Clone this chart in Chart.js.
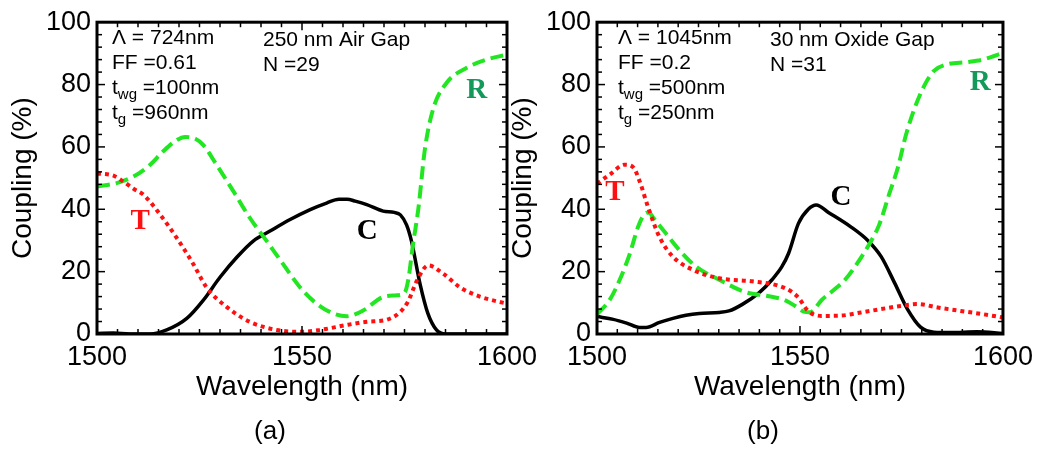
<!DOCTYPE html>
<html><head><meta charset="utf-8">
<script src="https://cdn.jsdelivr.net/npm/chart.js@4/dist/chart.umd.min.js"></script>
<style>
html,body{margin:0;padding:0;background:#fff;}
#wrap{position:relative;width:1040px;height:449px;overflow:hidden;background:#fff;}
canvas{position:absolute;left:0;top:0;}
</style></head><body>
<div id="wrap"><canvas id="ca" width="1040" height="449"></canvas><canvas id="cb" width="1040" height="449"></canvas></div>
<script>
// ---- tick labels ----
const xTickLabels = [1500, 1550, 1600];
const yTickLabels = [0, 20, 40, 60, 80, 100];

// ---- Panel (a): 250 nm Air Gap ----
const wlA_T = [1500,1504,1506.4,1509,1511.3,1515.4,1519.4,1523.5,1526.7,1531.6,1537.3,1543.8,1549.5,1554.4,1560.9,1565.8,1570.7,1573.9,1575.9,1578,1580.8,1584.5,1588.5,1593.4,1600];
const valA_T = [51.5,50.8,48.9,46.5,44.7,38.3,30.9,22.4,15,8.7,3.9,1.3,0.7,1.3,2.9,3.9,4.6,7,10.5,17,22,19.3,15,12,9.7];
const wlA_R = [1500,1504.8,1508.9,1512.9,1516,1519,1521.5,1524,1526,1529.2,1533.3,1537.3,1541.4,1545.4,1549.5,1553.6,1557.6,1560.9,1565,1569.8,1573.1,1575.1,1576,1577,1578.4,1580,1582,1585.3,1590.2,1595,1600];
const valA_R = [47.3,48.4,50.5,54.2,58.4,61.8,63.2,62.6,60.5,54.2,45.7,37.2,29.8,22.4,15,9.7,6.6,5.7,7.6,11.9,12.4,13.4,18,28,40.4,59.5,72.2,80.6,85.4,88,89.6];
const wlA_C = [1500,1504,1508,1513,1517,1521.9,1525.9,1530,1534.1,1538.1,1542.2,1547.1,1552,1556,1559,1561,1563,1565.8,1569.8,1572.5,1574,1575.5,1576.7,1578.8,1580.7,1582.8,1585,1600];
const valA_C = [0.2,0.3,0,0,1.3,5,10.8,18.2,24.6,29.8,33,36.7,39.9,42,43.2,43.2,42.6,41.5,39.4,39,38.2,35,29.8,16,6.6,1.3,0,0];

// ---- Panel (b): 30 nm Oxide Gap ----
const wlB_T = [1500,1503.2,1506.8,1508.9,1510.5,1512.6,1515.4,1518.7,1523.6,1530.1,1538.2,1544.7,1548,1549.6,1552,1555.3,1560,1565,1570,1574.8,1579,1583.9,1589.6,1595.3,1600];
const valB_T = [48.2,51.2,54.3,53.5,49,40.6,31.1,24.8,20.6,17.9,16.9,15.5,13.5,11.7,7.4,5.8,5.9,6.9,8,9,9.6,8.5,7.4,6.3,5.3];
const wlB_R = [1500,1503.2,1505.6,1508.1,1510.1,1511.7,1512.8,1513.8,1517,1520.3,1524.4,1530.1,1536.6,1542.3,1546.4,1548.8,1550.9,1552.5,1555.4,1558.6,1561.1,1563.5,1566.7,1569.5,1572,1574.1,1576.1,1578.2,1580.6,1583,1586.3,1591.2,1595.3,1600];
const valB_R = [6.3,11.1,17.4,25.8,34.3,38.5,39,37.4,32.2,26.9,21.6,17.4,13.4,12.1,10.8,9,7.2,7,11,14.4,17.4,21.5,28,35,45,53.3,63.8,72.3,79.6,84.4,86.5,87.2,88.1,90.2];
const wlB_C = [1500,1504,1507.3,1510.5,1512.1,1515.4,1518.7,1521.9,1525.2,1530.1,1532.5,1535.8,1539.9,1543.1,1545.5,1547.2,1549.6,1552.1,1554,1557,1562.6,1566.7,1570,1573.3,1576.5,1579.7,1583,1587.1,1593.6,1600];
const valB_C = [5.6,4.7,3.5,2.1,2.1,3.7,5,6,6.6,6.9,7.4,9.5,13.2,17.4,21.5,25.9,35.4,40.1,41.4,39,34.3,30,24.8,16.4,7.9,2.2,0.6,0.5,0.7,0.2];

// ---- annotation texts ----
const annA = { params: [['Λ = 724nm'], ['FF =0.61'], ['t','wg',' =100nm'], ['t','g',' =960nm']], gap: ['250 nm Air Gap', 'N =29'], caption: '(a)' };
const annB = { params: [['Λ = 1045nm'], ['FF =0.2'], ['t','wg',' =500nm'], ['t','g',' =250nm']], gap: ['30 nm Oxide Gap', 'N =31'], caption: '(b)' };

const SANS = "'Liberation Sans', Arial, sans-serif";
const SERIF = "'Liberation Serif', 'Times New Roman', serif";
const pts = (xs, ys) => xs.map((x, i) => ({x, y: ys[i]}));

const decorPlugin = {
  id: 'decor',
  afterDatasetsDraw(chart, args, o) {
    const {ctx, chartArea: a, scales: {x, y}} = chart;
    ctx.save();
    ctx.strokeStyle = '#000';
    ctx.lineWidth = 1.5;
    const seg = (x1, y1, x2, y2) => { ctx.beginPath(); ctx.moveTo(x1, y1); ctx.lineTo(x2, y2); ctx.stroke(); };
    for (let v = 1500; v <= 1600; v += 5) {
      const px = x.getPixelForValue(v);
      const len = (v % 50 === 0) ? 8 : 5;
      seg(px, a.bottom, px, a.bottom - len);
      seg(px, a.top, px, a.top + len);
    }
    for (let v = 0; v <= 100; v += 4) {
      const py = y.getPixelForValue(v);
      const len = (v % 20 === 0) ? 8 : 5;
      seg(a.left, py, a.left + len, py);
      seg(a.right, py, a.right - len, py);
    }
    ctx.lineWidth = 3;
    ctx.strokeRect(a.left, a.top, a.width, a.height);

    // parameter text
    ctx.fillStyle = '#000';
    ctx.textBaseline = 'alphabetic';
    ctx.textAlign = 'left';
    const ann = o.ann;
    const bl = [44, 69, 94, 119];
    ann.params.forEach((p, i) => {
      let px = a.left + o.px;
      const py = bl[i];
      ctx.font = "21px " + SANS;
      if (p.length === 1) { ctx.fillText(p[0], px, py); return; }
      ctx.fillText(p[0], px, py);
      px += ctx.measureText(p[0]).width;
      ctx.font = "15px " + SANS;
      ctx.fillText(p[1], px, py + 5);
      px += ctx.measureText(p[1]).width;
      ctx.font = "21px " + SANS;
      ctx.fillText(p[2], px, py);
    });
    ctx.font = "21px " + SANS;
    ctx.fillText(ann.gap[0], a.left + o.gx, 46);
    ctx.fillText(ann.gap[1], a.left + o.gx, 71);

    // curve labels
    ctx.textAlign = 'center';
    ctx.textBaseline = 'middle';
    ctx.font = "bold 29px " + SERIF;
    o.labels.forEach(l => {
      ctx.fillStyle = l.c;
      ctx.fillText(l.t, x.getPixelForValue(l.x), y.getPixelForValue(l.y));
    });

    // caption
    ctx.fillStyle = '#000';
    ctx.font = "26px " + SANS;
    ctx.fillText(ann.caption, o.capX, 432);
    ctx.restore();
  }
};

function makeChart(id, padLeft, padRight, T, R, C, ann, o) {
  return new Chart(document.getElementById(id), {
    type: 'line',
    data: { datasets: [
      { data: T, borderColor: '#ff1010', borderWidth: 4, borderDash: [4, 4], borderCapStyle: 'butt' },
      { data: R, borderColor: '#22e622', borderWidth: 4, borderDash: [13, 6], borderCapStyle: 'butt' },
      { data: C, borderColor: '#000000', borderWidth: 3.5 }
    ]},
    options: {
      responsive: false, animation: false, devicePixelRatio: 1,
      layout: { padding: { left: padLeft, right: padRight, top: 19, bottom: 0 } },
      elements: { point: { radius: 0 }, line: { cubicInterpolationMode: 'monotone', fill: false } },
      plugins: { legend: { display: false }, tooltip: { enabled: false }, title: { display: false },
        decor: Object.assign({ ann }, o) },
      scales: {
        x: { type: 'linear', min: 1500, max: 1600,
          afterBuildTicks: s => { s.ticks = xTickLabels.map(v => ({ value: v })); },
          ticks: { font: { family: SANS, size: 27 }, color: '#000', padding: 7, maxRotation: 0, autoSkip: false,
                   callback: v => String(v) },
          grid: { display: false, drawTicks: false }, border: { display: false },
          title: { display: true, text: 'Wavelength (nm)', color: '#000', font: { family: SANS, size: 28 }, padding: { top: 0, bottom: 45 } },
          afterFit: s => { s.height = 115; } },
        y: { type: 'linear', min: 0, max: 100,
          afterBuildTicks: s => { s.ticks = yTickLabels.map(v => ({ value: v })); },
          ticks: { font: { family: SANS, size: 27 }, color: '#000', padding: 6, autoSkip: false,
                   callback: v => String(v) },
          grid: { display: false, drawTicks: false }, border: { display: false },
          title: { display: true, text: 'Coupling (%)', color: '#000', font: { family: SANS, size: 28 }, padding: { top: 6, bottom: 0 } },
          afterFit: s => { s.width = 97; } }
      }
    },
    plugins: [decorPlugin]
  });
}

makeChart('ca', 0, 533, pts(wlA_T, valA_T), pts(wlA_R, valA_R), pts(wlA_C, valA_C), annA,
  { px: 15, gx: 166, capX: 270,
    labels: [ { t: 'T', c: '#ff1010', x: 1510.5, y: 36 }, { t: 'C', c: '#000', x: 1565.9, y: 33 }, { t: 'R', c: '#139a5a', x: 1592.6, y: 78.1 } ] });
makeChart('cb', 500, 34, pts(wlB_T, valB_T), pts(wlB_R, valB_R), pts(wlB_C, valB_C), annB,
  { px: 21, gx: 173, capX: 763,
    labels: [ { t: 'T', c: '#ff1010', x: 1504.4, y: 45.3 }, { t: 'C', c: '#000', x: 1560.1, y: 43.7 }, { t: 'R', c: '#139a5a', x: 1594.4, y: 80.7 } ] });
</script>
</body></html>
